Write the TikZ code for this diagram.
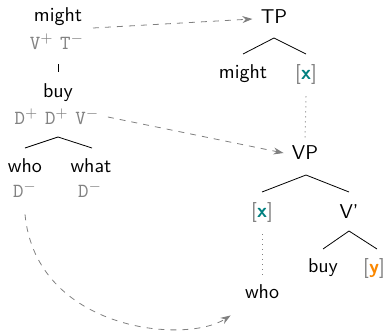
\documentclass[tikz,border=0pt]{standalone}
\usetikzlibrary{arrows.meta}
\renewcommand{\familydefault}{\sfdefault}
\definecolor{xteal}{RGB}{0,128,128}
\definecolor{yorange}{RGB}{250,135,0}
\definecolor{featgray}{RGB}{130,130,130}
\newcommand{\feat}[2]{\texttt{#1}$^{#2}$}
\newcommand{\xvar}{\textcolor{featgray}{[}\textcolor{xteal}{\textbf{x}}\textcolor{featgray}{]}}
\newcommand{\yvar}{\textcolor{featgray}{[}\textcolor{yorange}{\textbf{y}}\textcolor{featgray}{]}}
\begin{document}
\begin{tikzpicture}[x=0.5pt,y=-0.5pt,
  word/.style={inner sep=0pt,font=\sffamily},
  featnode/.style={inner sep=0pt,text=featgray},
  branch/.style={draw=black,line width=0.4pt},
  dotline/.style={draw=gray,dotted,line width=0.5pt},
  move/.style={draw=gray,dashed,line width=0.4pt,-{Stealth[length=5pt,width=3.5pt]}}]
\useasboundingbox (0,0) rectangle (385,332);
% left: lexical items
\node[word] (might) at (58,17) {might};
\node[featnode] (mightf) at (57,42) {\feat{V}{+}\ \feat{T}{-}};
\node[word] (buy) at (58,93) {buy};
\node[featnode] (buyf) at (57,117) {\feat{D}{+}\ \feat{D}{+}\ \feat{V}{-}};
\node[word] (who) at (25,166) {who};
\node[word] (what) at (91,166) {what};
\node[featnode] (whof) at (25,190) {\feat{D}{-}};
\node[featnode] (whatf) at (90,190) {\feat{D}{-}};
\coordinate (v1) at (58,64);
\coordinate (v2) at (58,72);
\draw[branch] (v1) -- (v2);
\coordinate (la) at (58,137);
\coordinate (ll) at (25,148);
\coordinate (lr) at (92,148);
\draw[branch] (ll) -- (la) -- (lr);
% right: tree
\node[word] (TP) at (274,17) {TP};
\node[word] (might2) at (243,74) {might};
\node[word] (x1) at (306,74) {\xvar};
\node[word] (VP) at (305,153) {VP};
\node[word] (x2) at (262,212) {\xvar};
\node[word] (Vbar) at (349,212) {V'};
\node[word] (who2) at (262,292) {who};
\node[word] (buy2) at (323,268) {buy};
\node[word] (y) at (374,268) {\yvar};
\coordinate (ta) at (274,38);
\coordinate (tl) at (243,54);
\coordinate (tr) at (306,54);
\draw[branch] (tl) -- (ta) -- (tr);
\coordinate (va) at (306,175);
\coordinate (vl) at (262,192);
\coordinate (vr) at (349,192);
\draw[branch] (vl) -- (va) -- (vr);
\coordinate (ba) at (349,231);
\coordinate (bl) at (323,249);
\coordinate (br) at (377,249);
\draw[branch] (bl) -- (ba) -- (br);
\draw[dotline] ([yshift=-6pt]x1.south) -- ([yshift=3pt]VP.north);
\draw[dotline] ([yshift=-6pt]x2.south) -- ([yshift=3pt]who2.north);
% movement arrows
\coordinate (m1) at (93,28);
\draw[move] (m1) -- ([xshift=-4pt,yshift=-1pt]TP.west);
\draw[move] ([xshift=4pt]buyf.east) -- ([xshift=-4pt]VP.west);
\draw[move] ([yshift=-8pt]whof.south) .. controls (36,330) and (185,345) .. ([xshift=-7pt,yshift=-8pt]who2.south west);
\end{tikzpicture}
\end{document}
